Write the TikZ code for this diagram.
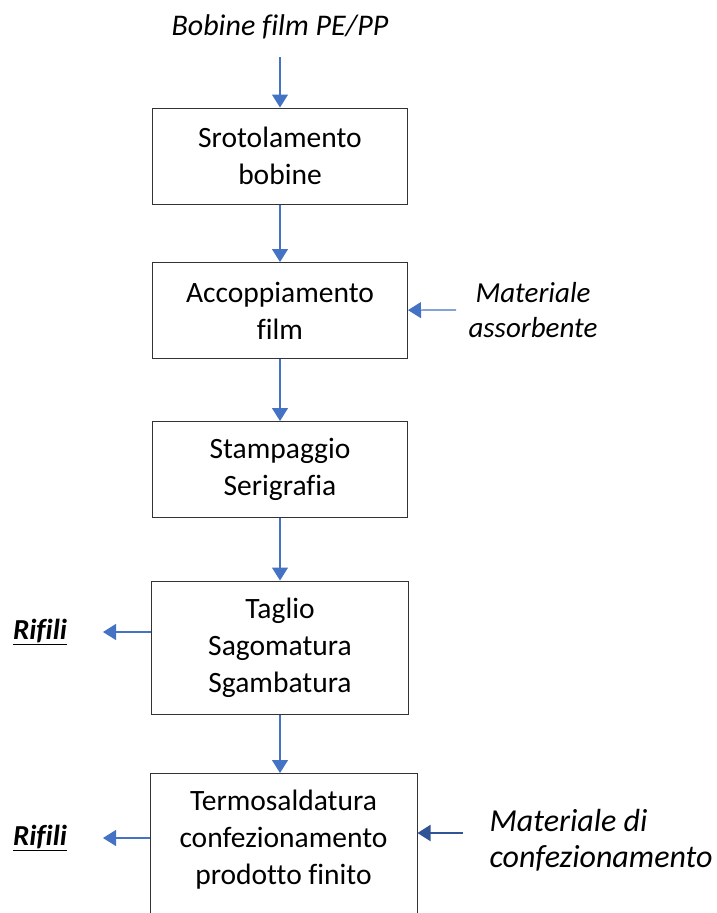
\documentclass[tikz,border=0pt]{standalone}
\usepackage{fontspec}
\setmainfont{Carlito}[Ligatures=NoCommon]
\usetikzlibrary{positioning, shapes, arrows.meta}

\definecolor{flowblue}{HTML}{4472C4}
\definecolor{inkblue}{HTML}{2F5597}

\tikzset{
  stepbox/.style={draw=black!80, line width=1pt, align=center, minimum width=255pt,
    minimum height=96pt, inner sep=4pt, font=\fontsize{29.5}{37}\selectfont},
  flow/.style={flowblue, line width=1.2pt, -{Triangle[width=16pt,length=13pt]}},
  inlabel/.style={align=center, font=\fontsize{29}{35}\selectfont\itshape},
  wastelabel/.style={font=\fontsize{29}{32}\selectfont\bfseries\itshape},
}

\begin{document}
\begin{tikzpicture}[x=1pt, y=1pt]
  \useasboundingbox (0,0) rectangle (717,-913);
  \node[inlabel, font=\fontsize{30}{35}\selectfont\itshape] (bob) at (280,-27) {Bobine film PE/PP};
  \node[stepbox] (srot) at (280,-156) {Srotolamento\\bobine};
  \node[stepbox] (acc) at (280,-310.5) {Accoppiamento\\film};
  \node[stepbox] (stamp) at (280,-469.5) {Stampaggio\\Serigrafia};
  \node[stepbox, minimum width=257pt, minimum height=133pt] (taglio) at (280,-647.5) {Taglio\\Sagomatura\\Sgambatura};
  \node[stepbox, minimum width=267pt, inner ysep=17pt, text depth=60pt, anchor=north] (term) at (283.5,-773)
    {Termosaldatura\\confezionamento\\prodotto finito};
  \node[inlabel] (assorb) at (533,-310) {Materiale\\assorbente};
  \node[inlabel, align=left, font=\fontsize{32}{36}\selectfont\itshape] (confez) at (601,-840)
    {Materiale di\\confezionamento};
  \node[wastelabel] (rif1) at (40,-632) {\underline{Rifili}};
  \node[wastelabel] (rif2) at (40,-838) {\underline{Rifili}};
  \coordinate (bobin) at (280,-57);
  \coordinate (assin) at (456,-310);
  \coordinate (confin) at (463,-833);
  \coordinate (rif1out) at (103,-632);
  \coordinate (rif2out) at (103,-838);

  \draw[flow] (bobin) -- (srot);
  \draw[flow] (srot) -- (acc);
  \draw[flow] (acc) -- (stamp);
  \draw[flow] (stamp) -- (taglio);
  \draw[flow] (taglio.south) -- (taglio.south |- term.north);
  \draw[flow] (assin) -- (acc);
  \draw[flow, inkblue, line width=2pt] (confin) -- (term.east |- confin);
  \draw[flow] (taglio.west |- rif1out) -- (rif1out);
  \draw[flow] (term.west |- rif2out) -- (rif2out);
\end{tikzpicture}
\end{document}
